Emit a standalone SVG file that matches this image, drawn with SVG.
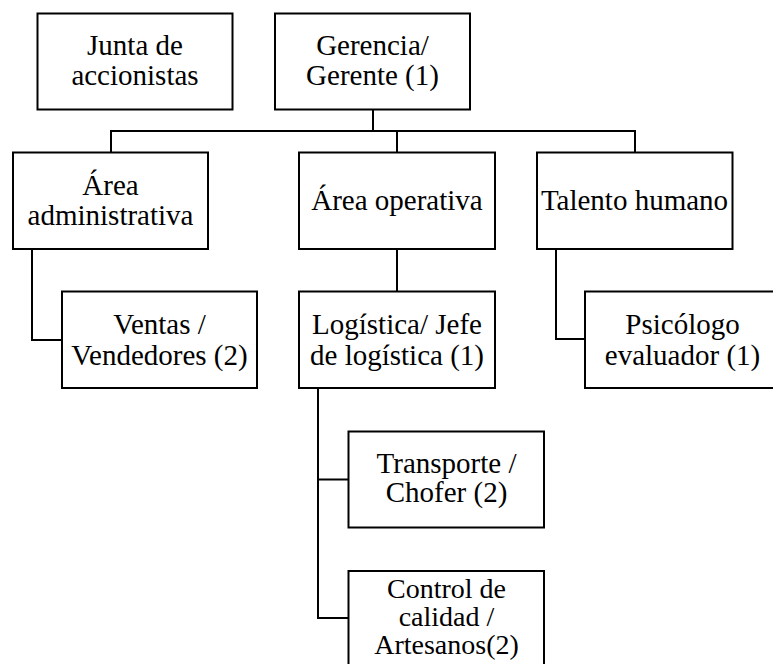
<svg xmlns="http://www.w3.org/2000/svg" width="773" height="664" viewBox="0 0 773 664">
<style>
.box{fill:#fff;stroke:#000;stroke-width:2}
.ln{fill:none;stroke:#000;stroke-width:2}
text{font-family:"Liberation Serif","Times New Roman",serif;font-size:29px;fill:#000;text-anchor:middle}
.sm{font-size:28px}
</style>
<rect width="773" height="664" fill="#fff"/>
<g id="connectors">
<path class="ln" d="M373 110V131"/>
<path class="ln" d="M111 152V131H635V152"/>
<path class="ln" d="M397 131V152"/>
<path class="ln" d="M32 250V340H62"/>
<path class="ln" d="M397 250V291"/>
<path class="ln" d="M556 250V339H585"/>
<path class="ln" d="M318 389V618H348"/>
<path class="ln" d="M318 479.5H348"/>
</g>
<g id="junta">
<rect class="box" x="37.5" y="13.5" width="195" height="96"/>
<text x="135" y="55">Junta de</text>
<text x="135" y="85">accionistas</text>
</g>
<g id="gerencia">
<rect class="box" x="275" y="13.5" width="195" height="96"/>
<text x="372.5" y="55">Gerencia/</text>
<text x="372.5" y="85">Gerente (1)</text>
</g>
<g id="area-administrativa">
<rect class="box" x="13" y="152.5" width="195" height="96.5"/>
<text x="110.5" y="195">Área</text>
<text x="110.5" y="225">administrativa</text>
</g>
<g id="area-operativa">
<rect class="box" x="299" y="152.5" width="196" height="96.5"/>
<text x="397" y="210">Área operativa</text>
</g>
<g id="talento-humano">
<rect class="box" x="537" y="152.5" width="195.5" height="96.5"/>
<text x="634.5" y="209.5">Talento humano</text>
</g>
<g id="ventas">
<rect class="box" x="62" y="291.5" width="195" height="96.5"/>
<text x="159.5" y="334">Ventas /</text>
<text x="159.5" y="364.5">Vendedores (2)</text>
</g>
<g id="logistica">
<rect class="box" x="299" y="291.5" width="196" height="96.5"/>
<text x="397" y="334">Logística/ Jefe</text>
<text x="397" y="364.5">de logística (1)</text>
</g>
<g id="psicologo">
<rect class="box" x="585" y="291.5" width="196" height="96.5"/>
<text x="682.5" y="334">Psicólogo</text>
<text x="682.5" y="364.5">evaluador (1)</text>
</g>
<g id="transporte">
<rect class="box" x="348.5" y="431.5" width="195.5" height="96"/>
<text x="446.5" y="473">Transporte /</text>
<text x="446.5" y="502">Chofer (2)</text>
</g>
<g id="control-calidad">
<rect class="box" x="348.5" y="571" width="195.5" height="120"/>
<text class="sm" x="446.5" y="598">Control de</text>
<text class="sm" x="446.5" y="626">calidad /</text>
<text class="sm" x="446.5" y="653.5">Artesanos(2)</text>
</g>
</svg>
